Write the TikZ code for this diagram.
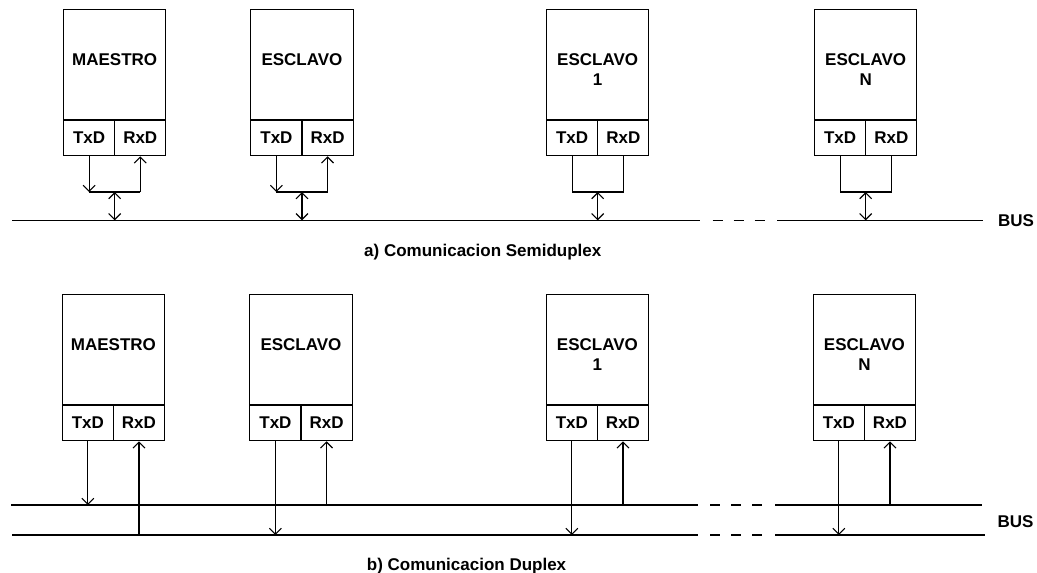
\documentclass[tikz,border=0pt]{standalone}
\usepackage{fontspec}
\setmainfont{Liberation Sans}
\usetikzlibrary{arrows.meta,calc}
\newcommand\diagfont{\fontsize{17}{20}\selectfont\bfseries}
\begin{document}
\begin{tikzpicture}[x=1pt,y=-1pt,
  >={Straight Barb[length=6pt,width=12pt]},
  unitbox/.style={draw,line width=1.1pt,minimum width=102.3pt,minimum height=109.3pt,inner sep=0pt,anchor=north west},
  portbox/.style={draw,line width=1.1pt,minimum width=51.15pt,minimum height=35.5pt,inner sep=0pt,font=\diagfont},
  unitlabel/.style={font=\diagfont,align=center,inner sep=0pt,anchor=north},
  wireline/.style={line width=1.1pt},
  busgap/.style={wireline,dash pattern=on 10pt off 11pt},
  plaintext/.style={font=\diagfont,inner sep=0pt}]
\useasboundingbox (0,0) rectangle (1037,573);

% ---------- a) half duplex ----------
\foreach \i/\x/\lab in {1/63/MAESTRO,2/250.3/ESCLAVO,3/546/{ESCLAVO\\1},4/814/{ESCLAVO\\N}}{
  \node[unitbox] (ma\i) at (\x,9.3) {};
  \node[portbox,anchor=north west] (ta\i) at (ma\i.south west) {TxD};
  \node[portbox,anchor=north east] (ra\i) at (ma\i.south east) {RxD};
  \node[unitlabel] (na\i) at ($(ma\i.north)+(0,44.5)$) {\lab};
  \path (ma\i.south) ++(0,72.3) coordinate (ja\i);
}

% bus line
\coordinate (a0) at (12.3,220.3);
\coordinate (a1) at (700,220.3);
\coordinate (a2) at (712.7,220.3);
\coordinate (a3) at (764.7,220.3);
\coordinate (a4) at (777.3,220.3);
\coordinate (a5) at (982.7,220.3);
\draw[wireline] (a0) -- (a1);
\draw[busgap] (a2) -- (a3);
\draw[wireline] (a4) -- (a5);
\node[plaintext] (busA) at (1016,220.7) {BUS};

% transmitter/receiver tied together, one bidirectional link to the bus
\foreach \i in {1,2}{
  \draw[wireline,->] (ta\i.south) -- (ta\i.south |- ja\i);
  \draw[wireline] (ta\i.south |- ja\i) -- (ra\i.south |- ja\i);
  \draw[wireline,->] (ra\i.south |- ja\i) -- (ra\i.south);
}
\foreach \i in {3,4}{
  \draw[wireline] (ta\i.south) -- (ta\i.south |- ja\i) -- (ra\i.south |- ja\i) -- (ra\i.south);
}
\foreach \i in {1,...,4}{
  \draw[wireline,<->] (ja\i) -- (ja\i |- a0);
}

\node[plaintext,anchor=base west] (capA) at (364,256) {a) Comunicacion Semiduplex};

% ---------- b) full duplex ----------
\foreach \i/\x/\lab in {1/61.7/MAESTRO,2/249.3/ESCLAVO,3/545.7/{ESCLAVO\\1},4/812.7/{ESCLAVO\\N}}{
  \node[unitbox] (mb\i) at (\x,294.3) {};
  \node[portbox,anchor=north west] (tb\i) at (mb\i.south west) {TxD};
  \node[portbox,anchor=north east] (rb\i) at (mb\i.south east) {RxD};
  \node[unitlabel] (nb\i) at ($(mb\i.north)+(0,44.5)$) {\lab};
}

% upper line
\coordinate (u0) at (11,505);
\coordinate (u1) at (698.3,505);
\coordinate (u2) at (710,505);
\coordinate (u3) at (762,505);
\coordinate (u4) at (775.3,505);
\coordinate (u5) at (981.7,505);
% lower line
\coordinate (l0) at (12.3,535);
\coordinate (l1) at (698.3,535);
\coordinate (l2) at (710,535);
\coordinate (l3) at (762,535);
\coordinate (l4) at (775.3,535);
\coordinate (l5) at (985,535);
\draw[wireline] (u0) -- (u1);
\draw[busgap] (u2) -- (u3);
\draw[wireline] (u4) -- (u5);
\draw[wireline] (l0) -- (l1);
\draw[busgap] (l2) -- (l3);
\draw[wireline] (l4) -- (l5);
\node[plaintext] (busB) at (1015.5,521.7) {BUS};

% master: sends on the upper line, listens on the lower one
\draw[wireline,->] (tb1.south) -- (tb1.south |- u0);
\draw[wireline,->] (rb1.south |- l0) -- (rb1.south);
% slaves: send on the lower line, listen on the upper one
\foreach \i in {2,3,4}{
  \draw[wireline,->] (tb\i.south) -- (tb\i.south |- l0);
  \draw[wireline,->] (rb\i.south |- u0) -- (rb\i.south);
}

\node[plaintext,anchor=base west] (capB) at (366.7,570.7) {b) Comunicacion Duplex};
\end{tikzpicture}
\end{document}
